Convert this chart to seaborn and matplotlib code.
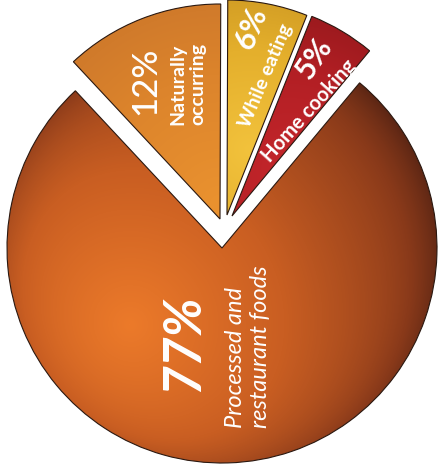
import numpy as np
import seaborn as sns
from matplotlib import pyplot as plt

# data
categories = ['Naturally\noccurring', 'While eating', 'Home cooking', 'Processed and\nrestaurant foods']
shares = [12, 6, 5, 77]
pct_labels = ['12%', '6%', '5%', '77%']

# gradient colours per slice: light -> dark
ramps = [
    ['#ea922f', '#dc842c', '#c6722a'],
    ['#f2c23c', '#e4af2c', '#c48f1e'],
    ['#c4262b', '#b21f24', '#8a1619'],
    ['#ec7a2a', '#c95e22', '#8a3a1a', '#3c1810'],
]
# light spot of each slice (pixel coords) and fall-off distance
spots = [((220, 205), 260), ((250, 150), 200), ((290, 170), 200), ((130, 325), 370)]
# slice offsets (pixels) for the pulled-out pieces
offsets = [(-2, -29), (5, -33), (10, -32), (0, 0)]

sns.set_theme(style='white')
plt.rcParams['font.family'] = ['Lato', 'DejaVu Sans']

W, H = 441, 472
CX, CY, R = 222, 248, 215


def px(x, y):
    return (x - CX) / R, (CY - y) / R


fig = plt.figure(figsize=(W / 100, H / 100), dpi=100)
ax = fig.add_axes([0, 0, 1, 1])
wedges, _ = ax.pie(shares, startangle=133, counterclock=False,
                   colors=[r[1] for r in ramps],
                   wedgeprops=dict(edgecolor='#2a1810', linewidth=0.8))
for w, (dx, dy) in zip(wedges, offsets):
    w.set_center((dx / R, -dy / R))

x0, y0 = px(0, H)
x1, y1 = px(W, 0)
ax.set_xlim(x0, x1)
ax.set_ylim(y0, y1)
ax.set_aspect('equal')
ax.axis('off')

# shaded fill clipped to each wedge
gx, gy = np.meshgrid(np.arange(W) + 0.5, np.arange(H) + 0.5)
rr = np.hypot(gx - CX, gy - CY) / R
for i, w in enumerate(wedges):
    (sx, sy), fall = spots[i]
    t = np.hypot(gx - sx, gy - sy) / fall
    if i == 3:
        t = 0.8 * t + 0.14 * rr ** 8
    t = np.clip(t, 0, 1)
    cmap = sns.blend_palette(ramps[i], as_cmap=True)
    img = ax.imshow(cmap(t), extent=(x0, x1, y0, y1), origin='upper',
                    interpolation='bilinear', zorder=w.get_zorder() + 0.1)
    img.set_clip_path(w)
    w.set_zorder(w.get_zorder() + 0.2)
    w.set_facecolor('none')

txt = dict(color='white', rotation_mode='anchor', zorder=5)

ax.text(*px(145, 81), pct_labels[0], rotation=90, ha='center', va='center',
        fontsize=25, fontweight='medium', **txt)
ax.text(*px(188, 84), categories[0], rotation=90, ha='center', va='center',
        fontsize=14, fontweight='bold', linespacing=1.25, **txt)

ax.text(*px(251, 28), pct_labels[1], rotation=68, ha='center', va='center',
        fontsize=22, fontweight='bold', **txt)
ax.text(*px(266, 76), categories[1], rotation=67, ha='center', va='center',
        fontsize=14, fontweight='bold', **txt)

ax.text(*px(314, 58), pct_labels[2], rotation=56, ha='center', va='center',
        fontsize=22, fontweight='bold', **txt)
ax.text(*px(309, 111), categories[2], rotation=48, ha='center', va='center',
        fontsize=14.5, fontweight='bold', **txt)

ax.text(*px(184, 343), pct_labels[3], rotation=90, ha='center', va='center',
        fontsize=37, fontweight='bold', fontstyle='italic', **txt)
ax.text(*px(248, 428), categories[3], rotation=90, ha='left', va='center',
        fontsize=17, fontstyle='italic', linespacing=1.2, multialignment='left', **txt)

fig.savefig('out.png', dpi=100, facecolor='white')
